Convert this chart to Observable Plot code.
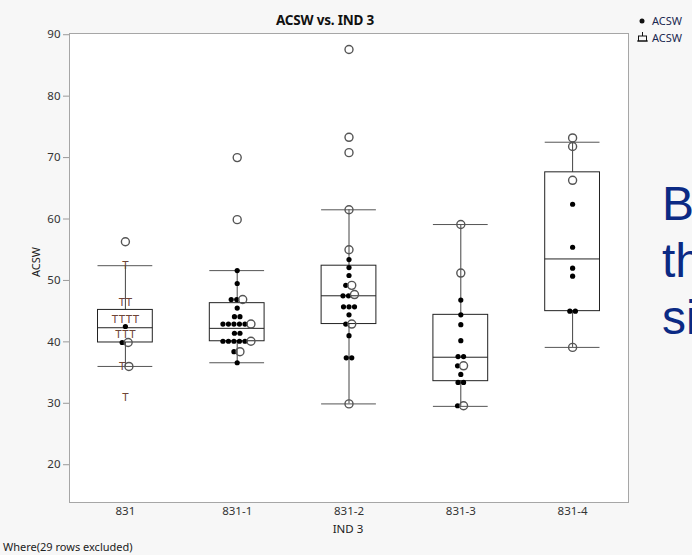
<!DOCTYPE html>
<html><head><meta charset="utf-8">
<script src="https://cdn.jsdelivr.net/npm/d3@7"></script>
<script src="https://cdn.jsdelivr.net/npm/@observablehq/plot@0.6"></script>
<style>
html,body{margin:0;padding:0;background:#f7f7f7;}
#wrap{position:relative;width:692px;height:555px;overflow:hidden;font-family:"Noto Sans",sans-serif;color:#222;}
#wrap svg{position:absolute;left:0;top:0;}
.abs{position:absolute;white-space:nowrap;}
#title{left:325px;top:20px;transform:translate(-50%,-50%);font-weight:bold;font-size:13.5px;letter-spacing:-0.2px;color:#111;}
#ylab{left:35px;top:262px;font-size:11px;transform:translate(-50%,-50%) rotate(-90deg);}
#xlab{left:348px;top:528px;font-size:11.5px;transform:translate(-50%,-50%);}
#foot{left:3px;top:546px;font-size:11px;transform:translateY(-50%);}
#slide{left:662px;top:175px;font-family:"Liberation Sans",sans-serif;font-size:48px;line-height:57px;color:#0b2a84;}
.leg{font-size:11px;color:#1a2850;display:flex;align-items:center;}
</style></head><body>
<div id="wrap">
  <div id="slide" class="abs">B<br>th<br>si</div>
  <div id="title" class="abs">ACSW vs. IND 3</div>
  <div id="ylab" class="abs">ACSW</div>
  <div id="xlab" class="abs">IND 3</div>
  <div id="foot" class="abs">Where(29 rows excluded)</div>
  <div class="abs leg" style="left:637px;top:13px;"><svg width="12" height="12" style="position:static"><circle cx="5" cy="6" r="2.5" fill="#111"/></svg><span style="margin-left:3px">ACSW</span></div>
  <div class="abs leg" style="left:637px;top:30px;"><svg width="12" height="12" style="position:static"><line x1="5.5" y1="0" x2="5.5" y2="4" stroke="#111"/><rect x="1.5" y="4" width="8" height="5" fill="none" stroke="#111"/><line x1="0" y1="9" x2="11" y2="9" stroke="#111"/></svg><span style="margin-left:3px">ACSW</span></div>
</div>
<script>
// ---- data ----
const groups = ["831", "831-1", "831-2", "831-3", "831-4"];
const yTicks = [20, 30, 40, 50, 60, 70, 80, 90];

// box plot summaries per group
const whiskerLow  = [36.0, 36.6, 29.9, 29.5, 39.1];
const q1          = [39.9, 40.1, 42.9, 33.6, 45.0];
const median      = [42.3, 42.2, 47.5, 37.5, 53.5];
const q3          = [45.2, 46.3, 52.4, 44.4, 67.6];
const whiskerHigh = [52.4, 51.6, 61.5, 59.1, 72.5];

// filled points per group
const filled831   = [42.5, 39.9];
const filled831_1 = [51.6, 49.5, 46.9, 46.9, 45.5, 44.1, 44.1, 42.9, 42.9, 42.9, 42.9, 42.9, 41.4, 41.4, 40.1, 40.1, 40.1, 40.1, 40.1, 38.4, 36.6];
const filled831_2 = [53.4, 52.1, 50.8, 49.2, 47.5, 47.5, 45.7, 45.7, 45.7, 44.4, 42.9, 41.0, 37.4, 37.4];
const filled831_3 = [46.8, 44.4, 42.8, 40.2, 37.6, 37.6, 36.1, 34.7, 33.4, 33.4, 29.6];
const filled831_4 = [62.4, 55.4, 52.0, 50.7, 45.0, 45.0];

// open-circle points per group
const open831   = [56.3, 39.9, 36.0];
const open831_1 = [70.0, 59.9, 46.9, 42.9, 40.1, 38.4];
const open831_2 = [87.6, 73.3, 70.8, 61.5, 55.0, 49.2, 47.7, 42.9, 29.9];
const open831_3 = [59.1, 51.2, 36.1, 29.6];
const open831_4 = [73.2, 71.8, 66.3, 39.1];

// "T" marker points (group 831 only)
const tee831 = [52.5, 46.4, 46.4, 43.7, 43.7, 43.7, 43.7, 41.3, 41.3, 41.3, 36.0, 31.0];

const filledByGroup = [filled831, filled831_1, filled831_2, filled831_3, filled831_4];
const openByGroup   = [open831, open831_1, open831_2, open831_3, open831_4];
const teeByGroup    = [tee831, [], [], [], []];

// ---- layout ----
const W = 692, H = 555, mL = 69, mR = 64, mT = 33, mB = 53;
const pxPerUnit = (W - mL - mR) / groups.length;
const slot = {tee: 7, filled: 5.5, open: 6.5};
const order = {tee: 0, filled: 1, open: 2};

const pts = [];
groups.forEach((g, i) => {
  const items = [
    ...teeByGroup[i].map(v => ({v, kind: "tee"})),
    ...filledByGroup[i].map(v => ({v, kind: "filled"})),
    ...openByGroup[i].map(v => ({v, kind: "open"}))
  ].sort((a, b) => (b.v - a.v) || (order[a.kind] - order[b.kind]));
  const rows = [];
  for (const it of items) {
    const r = rows[rows.length - 1];
    if (r && r.start - it.v <= 0.5) r.items.push(it);
    else rows.push({start: it.v, items: [it]});
  }
  for (const r of rows) {
    r.items.sort((a, b) => order[a.kind] - order[b.kind]);
    const total = d3.sum(r.items, d => slot[d.kind]);
    let cur = -total / 2;
    for (const it of r.items) {
      const off = cur + slot[it.kind] / 2;
      cur += slot[it.kind];
      pts.push({g, i, v: it.v, kind: it.kind, x: i + off / pxPerUnit});
    }
  }
});

const boxes = groups.map((g, i) => ({g, i, lo: whiskerLow[i], q1: q1[i], med: median[i], q3: q3[i], hi: whiskerHigh[i]}));
const hw = 0.245;

const chart = Plot.plot({
  width: W, height: H,
  marginLeft: mL, marginRight: mR, marginTop: mT, marginBottom: mB,
  style: {background: "transparent", fontFamily: "Noto Sans, sans-serif", fontSize: "11.5px", color: "#333"},
  x: {domain: [-0.5, 4.5], axis: null},
  y: {domain: [13.85, 90.2], axis: null},
  marks: [
    Plot.frame({fill: "white", stroke: "none"}),
    Plot.axisY({ticks: yTicks, tickSize: 6, tickPadding: 3, stroke: "#9a9a9a", fill: "#333", label: null}),
    Plot.axisX({ticks: [0, 1, 2, 3, 4], tickFormat: i => groups[i], tickSize: 0, tickPadding: 4, fill: "#333", label: null}),
    Plot.ruleX(boxes, {x: "i", y1: "lo", y2: "q1", stroke: "#444"}),
    Plot.ruleX(boxes, {x: "i", y1: "q3", y2: "hi", stroke: "#444"}),
    Plot.ruleY(boxes, {y: "lo", x1: d => d.i - hw, x2: d => d.i + hw, stroke: "#555"}),
    Plot.ruleY(boxes, {y: "hi", x1: d => d.i - hw, x2: d => d.i + hw, stroke: "#555"}),
    Plot.rect(boxes, {x1: d => d.i - hw, x2: d => d.i + hw, y1: "q1", y2: "q3", fill: "none", stroke: "#222"}),
    Plot.ruleY(boxes, {y: "med", x1: d => d.i - hw, x2: d => d.i + hw, stroke: "#222"}),
    Plot.dot(pts.filter(d => d.kind === "filled"), {x: "x", y: "v", r: 2.6, fill: "#000", stroke: null}),
    Plot.dot(pts.filter(d => d.kind === "open"), {x: "x", y: "v", r: 4, fill: "none", stroke: "#555", strokeWidth: 1.4}),
    Plot.text(pts.filter(d => d.kind === "tee"), {x: "x", y: "v", text: () => "T", fill: "#6e4536", fontSize: 11.5}),
    Plot.frame({stroke: "#a6a6a6"})
  ]
});
document.getElementById("wrap").prepend(chart);
</script>
</body></html>
